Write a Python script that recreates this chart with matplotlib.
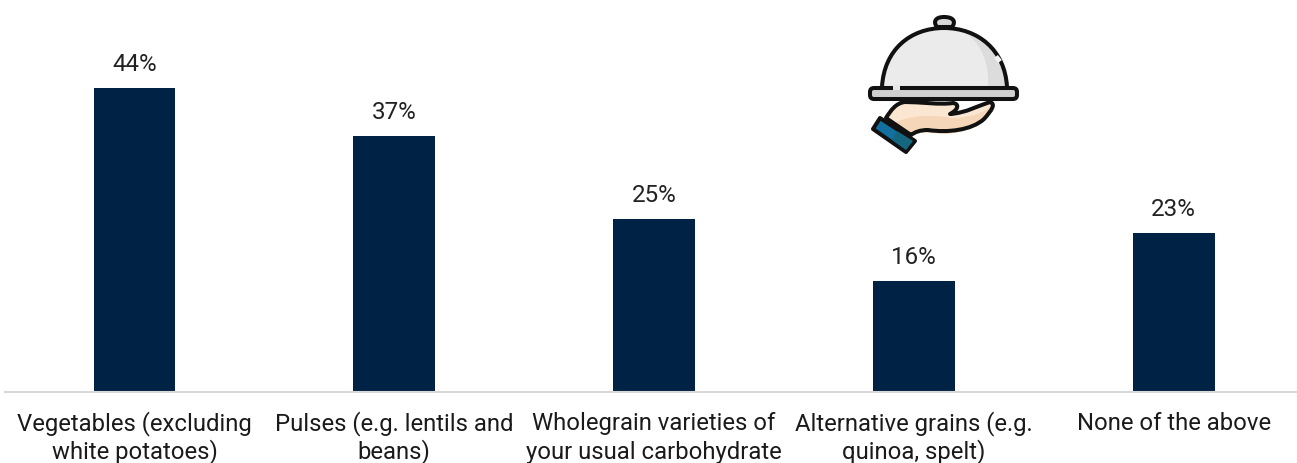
"""
Bar chart of food categories with a serving cloche icon
"""
import matplotlib
matplotlib.use('Agg')
import matplotlib.pyplot as plt
from matplotlib.patches import Polygon, FancyBboxPatch, PathPatch
from matplotlib.path import Path
from matplotlib.transforms import blended_transform_factory

plt.rcParams['font.family'] = ['Roboto', 'DejaVu Sans']

categories = ['Vegetables (excluding\nwhite potatoes)', 'Pulses (e.g. lentils and\nbeans)',
              'Wholegrain varieties of\nyour usual carbohydrate', 'Alternative grains (e.g.\nquinoa, spelt)',
              'None of the above']
values = [44, 37, 25, 16, 23]

W, H = 1297, 463
NAVY = '#002345'
INK = '#111111'
BASE = 391.6

fig = plt.figure(figsize=(W / 100, H / 100), dpi=100)
ax = fig.add_axes([4.6 / W, (H - BASE) / H, 1292.4 / W, BASE / H])
ax.bar(range(len(values)), values, width=0.315, color=NAVY)
for i, v in enumerate(values):
    ax.annotate(f'{v}%', (i, v), xytext=(0, 16.8), textcoords='offset points', ha='center', va='center',
                fontsize=17.4, color='#222222')
ax.set_xlim(-0.5, 4.475)
ax.set_ylim(0, BASE / 6.9)
ax.set_xticks(range(len(values)))
ax.set_xticklabels([])
ax.tick_params(axis='x', length=0)
ax.set_yticks([])
for s in ['top', 'left', 'right']:
    ax.spines[s].set_visible(False)
ax.spines['bottom'].set_color('#d9d9d9')
ax.spines['bottom'].set_linewidth(1.5)

# category labels line by line so every first line sits on one baseline
trans = blended_transform_factory(ax.transData, fig.transFigure)
for i, label in enumerate(categories):
    for j, line in enumerate(label.split('\n')):
        ax.text(i, (H - 430 - 28.5 * j) / H, line, transform=trans, ha='center', va='baseline',
                fontsize=17.2, color='#1a1a1a', clip_on=False)

# icon overlay, drawn in pixel coordinates
ic = fig.add_axes([0, 0, 1, 1], facecolor='none')
ic.set_xlim(0, W)
ic.set_ylim(H, 0)
ic.axis('off')


def curve(points, codes, **kw):
    patch = PathPatch(Path(points, codes), **kw)
    ic.add_patch(patch)
    return patch


M, L, C, Z = Path.MOVETO, Path.LINETO, Path.CURVE4, Path.CLOSEPOLY
LW = 2.9

# hand
hand_pts = [(886, 118), (891, 110), (896, 103), (905, 102), (920, 102), (940, 105), (953, 103),
            (960, 104), (958, 110), (950, 114), (966, 113), (980, 105), (990, 102), (996, 104), (992, 110),
            (984, 119), (972, 130), (948, 133), (928, 130), (920, 130), (915, 132), (911, 135), (886, 118)]
hand_codes = [M, C, C, C, C, C, C, C, C, C, C, C, C, C, C, C, C, C, C, C, C, C, Z]
curve(hand_pts, hand_codes, facecolor='#fbe6d2', edgecolor='none', zorder=2)
curve([(893, 124), (905, 116), (930, 114), (952, 118), (970, 118), (985, 112), (992, 106),
       (992, 120), (975, 132), (945, 134), (925, 132), (915, 133), (905, 133), (893, 124)],
      [M, C, C, C, C, C, C, C, C, C, C, C, C, Z], facecolor='#f6d6b8', edgecolor='none', zorder=2)
curve(hand_pts, hand_codes, facecolor='none', edgecolor=INK, lw=LW, joinstyle='round', zorder=2)
# cuff
ic.add_patch(Polygon([(880, 118), (915, 141), (906, 152), (873, 129)], closed=True, facecolor='#126f9f',
                     edgecolor=INK, lw=LW, joinstyle='round', zorder=3))
ic.add_patch(Polygon([(897, 131), (913, 141), (906, 150), (892, 140)], closed=True, facecolor='#14677f',
                     edgecolor='none', zorder=3))
# knob and dome
curve([(937, 27), (933, 22), (935, 17), (944, 17), (954, 17), (956, 22), (952, 27), (937, 27)],
      [M, C, C, C, C, C, C, Z], facecolor='#d9d9d9', edgecolor=INK, lw=LW, zorder=2)
dome = curve([(882, 87), (884, 50), (910, 28), (944, 28), (978, 28), (1005, 50), (1007, 87), (882, 87)],
             [M, C, C, C, C, C, C, Z], facecolor='#ebebeb', edgecolor='none', zorder=3)
shade = curve([(950, 27), (975, 32), (990, 55), (988, 88), (1010, 88), (1010, 27), (950, 27)],
              [M, C, C, C, L, L, Z], facecolor='#dcdcdc', edgecolor='none', zorder=3)
shade.set_clip_path(dome)
curve([(882, 87), (884, 50), (910, 28), (944, 28), (978, 28), (1005, 50), (1007, 87)],
      [M, C, C, C, C, C, C], facecolor='none', edgecolor=INK, lw=LW, zorder=3)
# small break in the dome outline
ic.plot([996, 1000], [56.5, 61.5], color='#f4f4f4', lw=3.4, solid_capstyle='butt', zorder=3)
# tray
ic.add_patch(FancyBboxPatch((870, 88), 147, 11, boxstyle='round,pad=0,rounding_size=4', facecolor='#cfcfcf',
                            edgecolor=INK, lw=LW, zorder=4))
ic.plot([893, 900], [87.8, 87.8], color='#e6e6e6', lw=3, solid_capstyle='butt', zorder=5)

plt.savefig('out.png', dpi=100)
